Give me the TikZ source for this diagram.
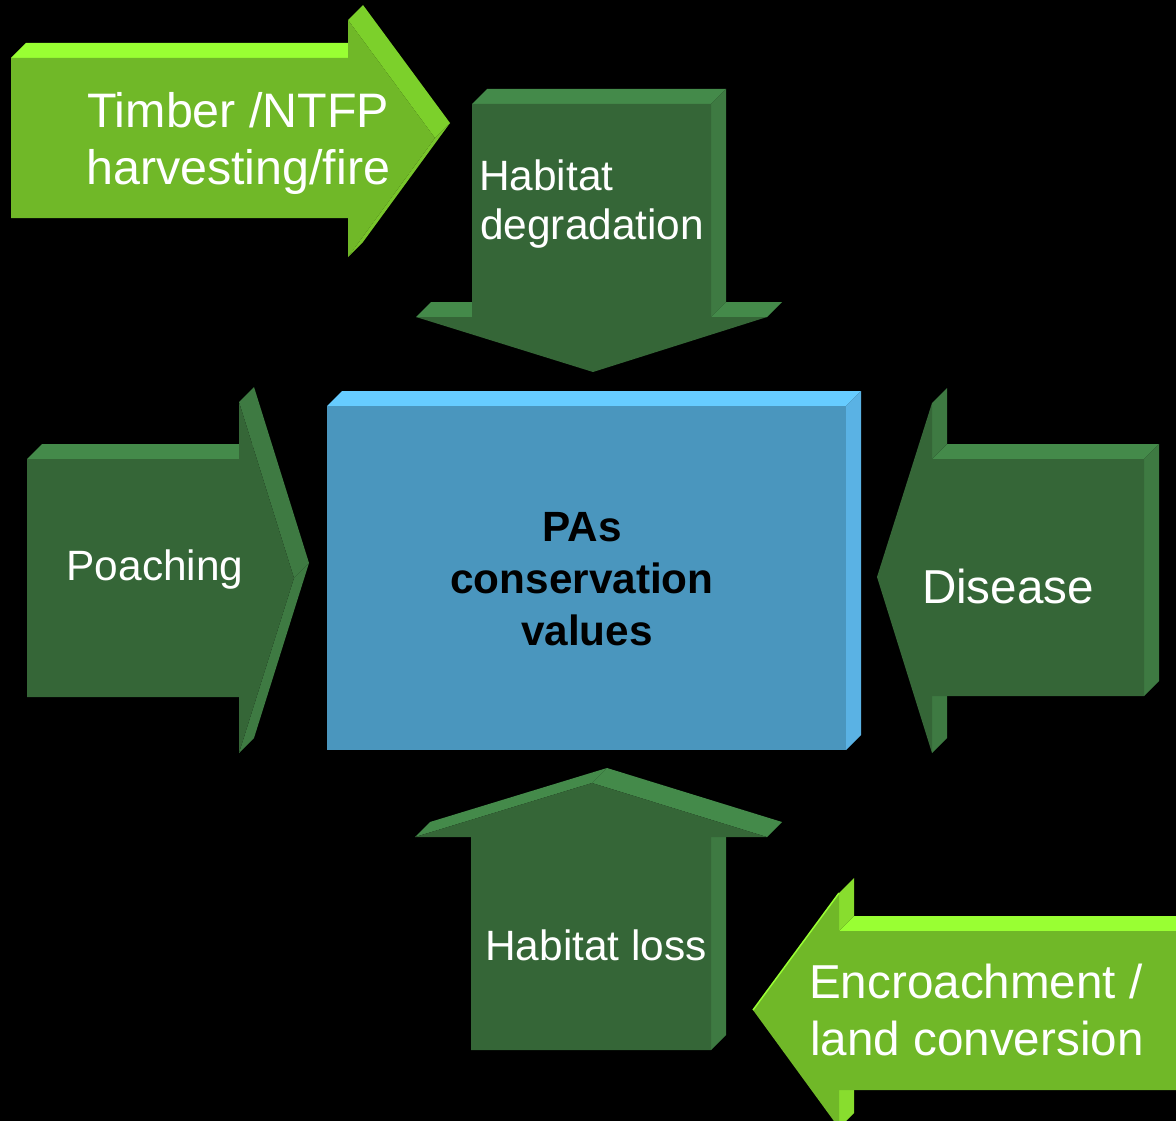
\documentclass[tikz,border=0pt]{standalone}
\usepackage{fontspec}
\setmainfont{Liberation Sans}
\definecolor{lgFront}{HTML}{70B828}
\definecolor{lgTop}{HTML}{99FF33}
\definecolor{lgHeadTop}{HTML}{7CD02B}
\definecolor{lgHeadLow}{HTML}{78C52B}
\definecolor{lgSide}{HTML}{88DD2E}
\definecolor{dgFront}{HTML}{356637}
\definecolor{dgTop}{HTML}{448A4A}
\definecolor{dgRight}{HTML}{3E7A42}
\definecolor{bFront}{HTML}{4A96BE}
\definecolor{bTop}{HTML}{66CCFF}
\definecolor{bRight}{HTML}{5AB2E4}
\begin{document}
\begin{tikzpicture}[x=1pt,y=-1pt,
  lbl/.style={text=white, inner sep=0pt, font=\fontsize{42.4}{50}\selectfont},
  lblbig/.style={text=white, inner sep=0pt, font=\fontsize{47.6}{57}\selectfont},
  lbltim/.style={text=white, inner sep=0pt, font=\fontsize{48.4}{57}\selectfont},
  lblcore/.style={text=black, inner sep=0pt, font=\bfseries\fontsize{42.3}{52}\selectfont}]
\useasboundingbox (0,0) rectangle (1176,1121);
\fill[black] (0,0) rectangle (1176,1121);
\clip (0,0) rectangle (1176,1121);

% Timber /NTFP arrow (light green, right)
\fill[lgTop] (11,58) -- (348,58) -- (363,43) -- (26,43) -- cycle;
\fill[lgHeadTop] (348,20) -- (435,138) -- (450,123) -- (363,5) -- cycle;
\fill[lgHeadLow] (435,138) -- (348,257) -- (363,242) -- (450,123) -- cycle;
\fill[lgFront] (11,58) -- (348,58) -- (348,20) -- (435,138) -- (348,257) -- (348,218) -- (11,218) -- cycle;

% Habitat degradation arrow (down)
\fill[dgTop] (472,104) -- (711,104) -- (726,89) -- (487,89) -- cycle;
\fill[dgRight] (711,104) -- (711,317) -- (726,302) -- (726,89) -- cycle;
\fill[dgTop] (711,317) -- (767,317) -- (782,302) -- (726,302) -- cycle;
\fill[dgTop] (416,317) -- (472,317) -- (487,302) -- (431,302) -- cycle;
\fill[dgFront] (472,104) -- (711,104) -- (711,317) -- (767,317) -- (593,372) -- (416,317) -- (472,317) -- cycle;

% Poaching arrow (right)
\fill[dgTop] (27,459) -- (239,459) -- (254,444) -- (42,444) -- cycle;
\fill[dgRight] (239,402) -- (294,578) -- (309,563) -- (254,387) -- cycle;
\fill[dgRight] (294,578) -- (239,753) -- (254,738) -- (309,563) -- cycle;
\fill[dgFront] (27,459) -- (239,459) -- (239,402) -- (294,578) -- (239,753) -- (239,697) -- (27,697) -- cycle;

% Disease arrow (left)
\fill[dgTop] (932,459) -- (1144,459) -- (1159,444) -- (947,444) -- cycle;
\fill[dgRight] (1144,459) -- (1144,696) -- (1159,681) -- (1159,444) -- cycle;
\fill[dgRight] (932,403) -- (932,459) -- (947,444) -- (947,388) -- cycle;
\fill[dgRight] (932,696) -- (932,753) -- (947,738) -- (947,681) -- cycle;
\fill[dgFront] (1144,459) -- (1144,696) -- (932,696) -- (932,753) -- (877,577) -- (932,403) -- (932,459) -- cycle;

% Habitat loss arrow (up)
\fill[dgRight] (711,837) -- (711,1050) -- (726,1035) -- (726,822) -- cycle;
\fill[dgTop] (415,837) -- (592,783) -- (607,768) -- (430,822) -- cycle;
\fill[dgTop] (592,783) -- (767,837) -- (782,822) -- (607,768) -- cycle;
\fill[dgFront] (471,1050) -- (471,837) -- (415,837) -- (592,783) -- (767,837) -- (711,837) -- (711,1050) -- cycle;

% Encroachment arrow (light green, left)
\fill[lgTop] (839,931) -- (1190,931) -- (1205,916) -- (854,916) -- cycle;
\fill[lgSide] (839,893) -- (839,931) -- (854,916) -- (854,878) -- cycle;
\fill[lgSide] (839,1090) -- (839,1128) -- (854,1113) -- (854,1075) -- cycle;
\fill[lgFront] (1190,931) -- (1190,1090) -- (839,1090) -- (839,1128) -- (753,1010) -- (839,893) -- (839,931) -- cycle;
\draw[lgTop, line width=1.5pt] (753,1010) -- (839,893);

% Central box
\fill[bTop] (327,406) -- (846,406) -- (861,391) -- (342,391) -- cycle;
\fill[bRight] (846,406) -- (846,750) -- (861,735) -- (861,391) -- cycle;
\fill[bFront] (327,406) rectangle (846,750);

% Labels
\node[lbltim, anchor=base west] (tim1) at (87,128) {Timber /NTFP};
\node[lbltim, anchor=base west] (tim2) at (86,185) {harvesting/fire};
\node[lbl, anchor=base west] (hd1) at (479,190) {Habitat};
\node[lbl, anchor=base west] (hd2) at (480,240) {degradation};
\node[lbl, anchor=base] (poach) at (155,580) {Poaching};
\node[lblbig, anchor=base] (dis) at (1008,603) {Disease};
\node[lbl, anchor=base] (hl) at (596,960) {Habitat loss};
\node[lblbig, anchor=base west] (enc1) at (809,998) {Encroachment /};
\node[lblbig, anchor=base west] (enc2) at (810,1055) {land conversion};
\node[lblcore, anchor=base] (pa1) at (582,541) {PAs};
\node[lblcore, anchor=base] (pa2) at (582,593) {conservation};
\node[lblcore, anchor=base] (pa3) at (587,645) {values};
\end{tikzpicture}
\end{document}
